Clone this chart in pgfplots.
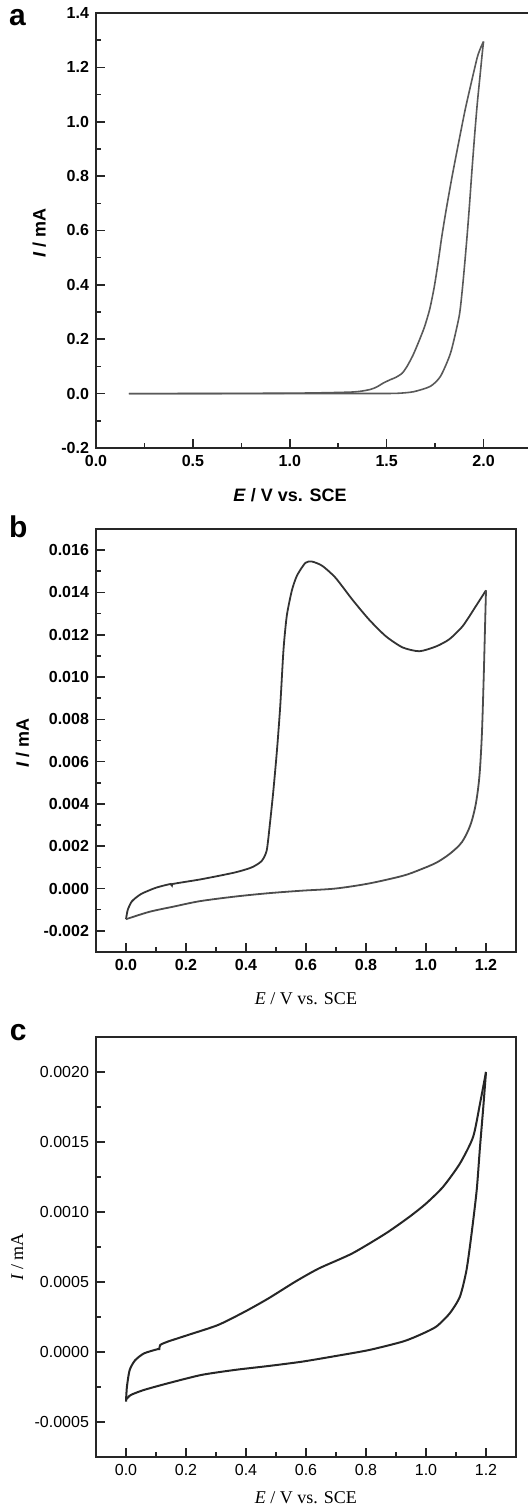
\documentclass[border=0pt]{standalone}
\usepackage{fontspec}
\setmainfont{Liberation Sans}
\newfontfamily\serif{Liberation Serif}
\usepackage{pgfplots}
\pgfplotsset{compat=1.18}
\pgfplotsset{
  cvstyle/.style={
    scale only axis,
    anchor=south west,
    axis line style={line width=1pt, black!85},
    tick align=inside,
    xtick pos=bottom, ytick pos=left,
    major tick length=4.5pt, minor tick length=2.5pt,
    every tick/.style={line width=0.8pt, black!85},
    scaled ticks=false,
    clip mode=individual,
  },
}
\begin{document}
\begin{tikzpicture}
\useasboundingbox (0,0) rectangle (263.5pt,755.5pt);

% ---------------- panel a ----------------
\begin{axis}[cvstyle,
  at={(48pt,531.5pt)}, width=218pt, height=217.5pt,
  xmin=0, xmax=2.25, ymin=-0.2, ymax=1.4,
  xtick={0,0.5,1,1.5,2}, xticklabels={0.0,0.5,1.0,1.5,2.0},
  ytick={-0.2,0,0.2,0.4,0.6,0.8,1.0,1.2,1.4},
  yticklabels={-0.2,0.0,0.2,0.4,0.6,0.8,1.0,1.2,1.4},
  minor x tick num=1, minor y tick num=1,
  ticklabel style={font=\bfseries\fontsize{8}{9}\selectfont},
  xlabel={\textit{E} / V vs. SCE},
  ylabel={\textit{I} / mA},
  label style={font=\bfseries\fontsize{9}{10}\selectfont},
  xlabel style={at={(axis description cs:0.445,-0.108)}, anchor=center},
  ylabel style={at={(axis description cs:-0.13,0.494)}, anchor=center},
]
\addplot[no marks, line width=0.8pt, black!65, smooth, tension=0.4] coordinates {
(0.17,0) (0.6,0) (1.0,0) (1.4,0.0005) (1.552,0.001) (1.639,0.007) (1.726,0.027)
(1.778,0.064) (1.830,0.150) (1.874,0.284) (1.890,0.38) (1.903,0.48) (1.915,0.58)
(1.927,0.69) (1.940,0.82) (1.955,0.96) (1.968,1.07) (1.982,1.17) (1.993,1.25) (2.0,1.295)};
\addplot[no marks, line width=0.8pt, black!65, smooth, tension=0.4] coordinates {
(2.0,1.295) (1.985,1.272) (1.968,1.238) (1.940,1.154) (1.905,1.044)
(1.871,0.922) (1.838,0.80) (1.808,0.68) (1.785,0.58) (1.765,0.48) (1.745,0.39)
(1.722,0.31) (1.695,0.245) (1.665,0.19) (1.635,0.14) (1.605,0.10) (1.580,0.075)
(1.548,0.060) (1.518,0.051) (1.483,0.039) (1.45,0.025)
(1.414,0.015) (1.327,0.006) (1.067,0.002) (0.6,0.0005) (0.17,0)};
\node[font=\bfseries\fontsize{15}{16}\selectfont] at (axis description cs:-0.18,0.989) {a};
\end{axis}

% ---------------- panel b ----------------
\begin{axis}[cvstyle,
  at={(48pt,279.5pt)}, width=210pt, height=211.5pt,
  xmin=-0.1, xmax=1.3, ymin=-0.003, ymax=0.017,
  xtick={0,0.2,0.4,0.6,0.8,1.0,1.2}, xticklabels={0.0,0.2,0.4,0.6,0.8,1.0,1.2},
  ytick={-0.002,0,0.002,0.004,0.006,0.008,0.010,0.012,0.014,0.016},
  yticklabels={-0.002,0.000,0.002,0.004,0.006,0.008,0.010,0.012,0.014,0.016},
  minor x tick num=1, minor y tick num=1,
  ticklabel style={font=\bfseries\fontsize{8}{9}\selectfont},
  xlabel={\serif\textit{E} / V vs. SCE},
  ylabel={\textit{I} / mA},
  xlabel style={font=\fontsize{9}{10}\selectfont, at={(axis description cs:0.5,-0.111)}, anchor=center},
  ylabel style={font=\bfseries\fontsize{9}{10}\selectfont, at={(axis description cs:-0.175,0.494)}, anchor=center},
]
\addplot[no marks, line width=0.9pt, black!80, smooth, tension=0.4] coordinates {
(0,-0.00145) (0.006,-0.0010) (0.02,-0.0006) (0.05,-0.00026) (0.1,0.00004)
(0.150,0.00022) (0.153,0.00014) (0.157,0.00022) (0.251,0.00044) (0.363,0.00076)
(0.419,0.0010) (0.452,0.0013) (0.469,0.0018) (0.480,0.0031) (0.491,0.0046)
(0.503,0.0065) (0.514,0.0086) (0.525,0.0113) (0.536,0.0129) (0.553,0.0141)
(0.570,0.0148) (0.598,0.0154) (0.620,0.01546) (0.654,0.01526) (0.698,0.0147)
(0.754,0.01367) (0.810,0.01272) (0.866,0.01193) (0.922,0.0114) (0.978,0.01122)
(1.034,0.01145) (1.078,0.01179) (1.123,0.01242) (1.167,0.01337) (1.2,0.0141)};
\addplot[no marks, line width=0.9pt, black!70, smooth, tension=0.5] coordinates {
(1.2,0.0141) (1.197,0.0125) (1.192,0.0098) (1.186,0.0072) (1.178,0.0053)
(1.166,0.0040) (1.148,0.0030) (1.12,0.0022) (1.08,0.00165) (1.034,0.00122)
(0.978,0.00088) (0.922,0.0006) (0.810,0.00024) (0.698,0.0) (0.587,-0.0001)
(0.475,-0.00022) (0.363,-0.00038) (0.245,-0.0006) (0.16,-0.00085) (0.078,-0.0011)
(0,-0.00145)};
\node[font=\bfseries\fontsize{15}{16}\selectfont] at (axis description cs:-0.185,1.005) {b};
\end{axis}

% ---------------- panel c ----------------
\begin{axis}[cvstyle,
  at={(48pt,27pt)}, width=210pt, height=210pt,
  xmin=-0.1, xmax=1.3, ymin=-0.00075, ymax=0.00225,
  xtick={0,0.2,0.4,0.6,0.8,1.0,1.2}, xticklabels={0.0,0.2,0.4,0.6,0.8,1.0,1.2},
  ytick={-0.0005,0,0.0005,0.0010,0.0015,0.0020},
  yticklabels={-0.0005,0.0000,0.0005,0.0010,0.0015,0.0020},
  minor x tick num=1, minor y tick num=1,
  ticklabel style={font=\fontsize{8}{9}\selectfont},
  xlabel={\textit{E} / V vs. SCE},
  ylabel={\textit{I} / mA},
  xlabel style={font=\serif\fontsize{9}{10}\selectfont, at={(axis description cs:0.5,-0.098)}, anchor=center},
  ylabel style={font=\serif\fontsize{9}{10}\selectfont, at={(axis description cs:-0.1875,0.476)}, anchor=center},
]
\addplot[no marks, line width=1pt, black!85, smooth, tension=0.4] coordinates {
(0,-0.000354) (0.003,-0.00025) (0.012,-0.00013) (0.03,-0.00006) (0.06,-0.00001)
(0.105,0.00002) (0.111,0.00002) (0.114,0.00005) (0.139,0.000074) (0.206,0.000121)
(0.307,0.000193) (0.396,0.000288) (0.475,0.000383) (0.564,0.000502) (0.643,0.000597)
(0.754,0.000704) (0.866,0.000847) (0.945,0.000966) (1.0,0.00106) (1.057,0.00118)
(1.113,0.001346) (1.157,0.001536) (1.180,0.001774) (1.2,0.0020)};
\addplot[no marks, line width=1pt, black!85, smooth, tension=0.4] coordinates {
(1.2,0.0020) (1.191,0.00175) (1.180,0.001465) (1.169,0.001156) (1.152,0.000847)
(1.135,0.000585) (1.113,0.000395) (1.079,0.000276) (1.034,0.000181) (0.978,0.000121)
(0.922,0.000074) (0.810,0.000014) (0.698,-0.000029) (0.587,-0.000069) (0.475,-0.0001)
(0.363,-0.000128) (0.251,-0.000164) (0.139,-0.000224) (0.06,-0.000271) (0.016,-0.000307)
(0,-0.00034)};
\node[font=\bfseries\fontsize{15}{16}\selectfont] at (axis description cs:-0.185,1.01) {c};
\end{axis}
\end{tikzpicture}
\end{document}
